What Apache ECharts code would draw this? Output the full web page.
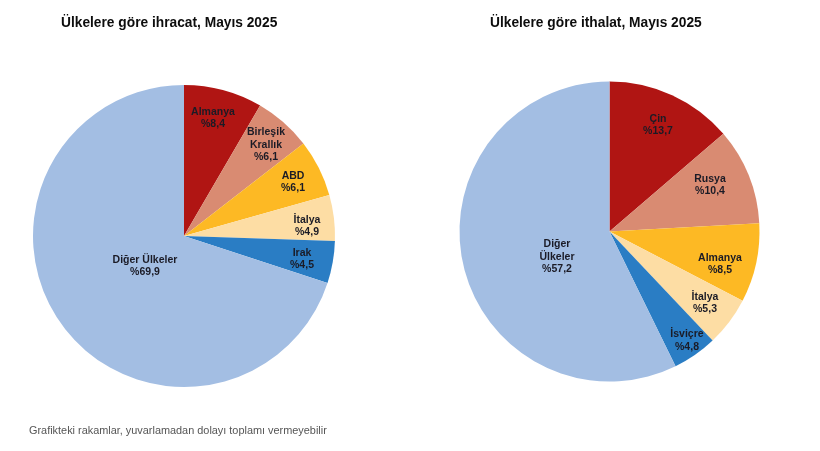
<!DOCTYPE html>
<html><head><meta charset="utf-8">
<style>html,body{margin:0;padding:0;background:#fff}#c{width:820px;height:451px}</style>
<script src="https://cdn.jsdelivr.net/npm/echarts@6/dist/echarts.min.js"></script>
</head><body><div id="c"></div>
<script>
const exportTitle = 'Ülkelere göre ihracat, Mayıs 2025';
const importTitle = 'Ülkelere göre ithalat, Mayıs 2025';
const footnote = 'Grafikteki rakamlar, yuvarlamadan dolayı toplamı vermeyebilir';
const exportCategories = ['Almanya', 'Birleşik\nKrallık', 'ABD', 'İtalya', 'Irak', 'Diğer Ülkeler'];
const exportValues = [8.4, 6.1, 6.1, 4.9, 4.5, 69.9];
const importCategories = ['Çin', 'Rusya', 'Almanya', 'İtalya', 'İsviçre', 'Diğer\nÜlkeler'];
const importValues = [13.7, 10.4, 8.5, 5.3, 4.8, 57.2];
const colors = ['#B01513', '#D98B72', '#FDB924', '#FDDDA4', '#2A7DC4', '#A3BEE3'];
const exportLabelAt = [[213,118],[266,145],[293,182],[307,226],[302,259],[145,266]];
const importLabelAt = [[658,125],[710,185],[720,264],[705,303],[687,340.5],[557,257]];

const fmt = v => '%' + v.toFixed(1).replace('.', ',');
function pie(cats, vals, center, radius, at) {
  return {
    type: 'pie', center, radius, startAngle: 90, clockwise: true, silent: true,
    animation: false, minAngle: 0, avoidLabelOverlap: false,
    data: cats.map((n, i) => ({ name: n, value: vals[i], itemStyle: { color: colors[i] } })),
    label: {
      show: true, position: 'inside', color: '#1b1b26', fontFamily: 'Liberation Sans',
      fontWeight: 'bold', fontSize: 10.5, lineHeight: 12.5, align: 'center', verticalAlign: 'middle',
      formatter: p => p.name + '\n' + fmt(p.value)
    },
    labelLine: { show: false },
    labelLayout: p => ({ x: at[p.dataIndex][0], y: at[p.dataIndex][1], align: 'center', verticalAlign: 'middle' })
  };
}
const chart = echarts.init(document.getElementById('c'), null, { renderer: 'canvas' });
const titleStyle = { color: '#0d0d0d', fontFamily: 'Liberation Sans', fontWeight: 'bold', fontSize: 13.75 };
chart.setOption({
  backgroundColor: '#fff',
  animation: false,
  title: [
    { text: exportTitle, left: 61, top: 16, padding: 0, textStyle: titleStyle },
    { text: importTitle, left: 490, top: 16, padding: 0, textStyle: titleStyle },
    { text: footnote, left: 29, top: 425, padding: 0,
      textStyle: { color: '#555', fontFamily: 'Liberation Sans', fontWeight: 'normal', fontSize: 10.9 } }
  ],
  series: [
    pie(exportCategories, exportValues, [184, 236], 151, exportLabelAt),
    pie(importCategories, importValues, [609.5, 231.5], 150, importLabelAt)
  ]
});
</script></body></html>
